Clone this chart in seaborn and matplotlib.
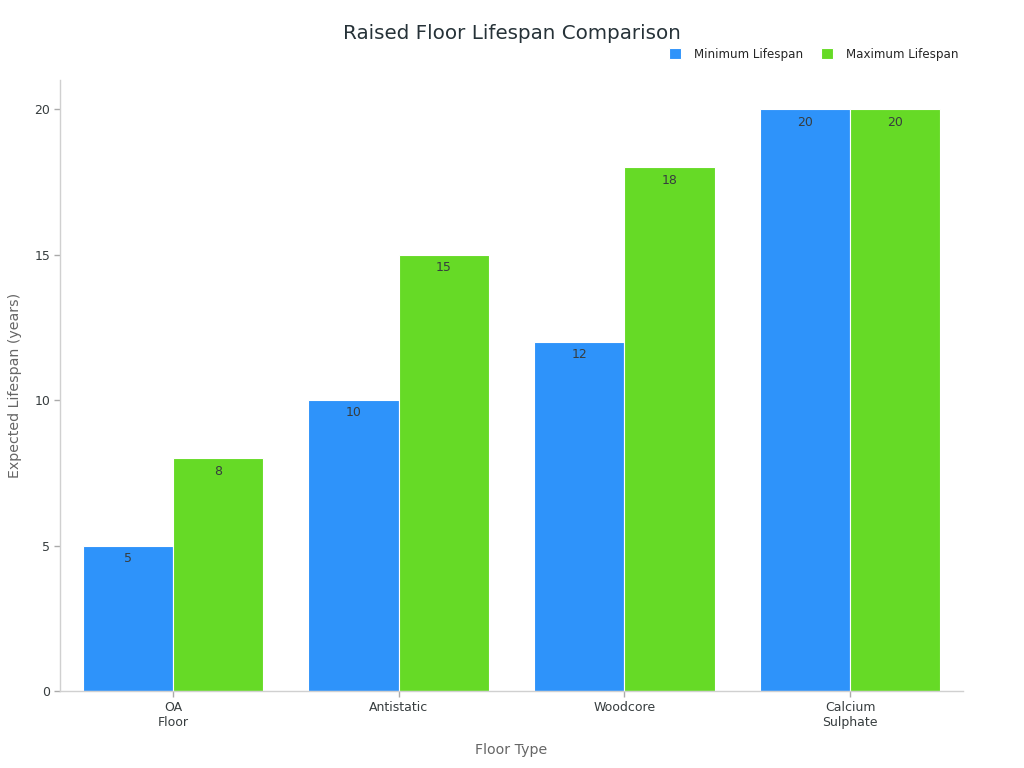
import matplotlib
matplotlib.use("Agg")
import matplotlib.pyplot as plt
import seaborn as sns
import pandas as pd

categories = ["OA\nFloor", "Antistatic", "Woodcore", "Calcium\nSulphate"]
min_life = [5, 10, 12, 20]
max_life = [8, 15, 18, 20]
series_names = ["Minimum Lifespan", "Maximum Lifespan"]
colors = ["#2E93FA", "#66DA26"]

df = pd.DataFrame({
    "Floor Type": categories * 2,
    "value": min_life + max_life,
    "series": [series_names[0]] * 4 + [series_names[1]] * 4,
})

sns.set_style("white")
plt.rcParams["font.family"] = ["DejaVu Sans"]

fig = plt.figure(figsize=(10.24, 7.68), dpi=100)
ax = fig.add_axes([0.0586, 0.1003, 0.8818, 0.7955])

sns.barplot(data=df, x="Floor Type", y="value", hue="series", palette=colors,
            width=0.8, gap=0, edgecolor="white", linewidth=0.8, ax=ax, saturation=1)

for cont in ax.containers:
    ax.bar_label(cont, labels=[f"{v:g}" for v in cont.datavalues], padding=-14,
                 color="#373d3f", fontsize=9)

ax.set_xlim(-0.5, 3.5)
ax.set_ylim(0, 21)
ax.set_yticks([0, 5, 10, 15, 20])
ax.set_ylabel("Expected Lifespan (years)", color="#666666", fontsize=10.2, labelpad=9)
ax.set_xlabel("Floor Type", color="#666666", fontsize=10.2, labelpad=10)
ax.tick_params(axis="both", labelcolor="#373d3f", labelsize=9, length=4, width=1,
               color="#aaaaaa", bottom=True, left=True, pad=3)
for s in ["top", "right"]:
    ax.spines[s].set_visible(False)
for s in ["left", "bottom"]:
    ax.spines[s].set_color("#d0d0d0")
    ax.spines[s].set_linewidth(1)

fig.text(0.5, 0.957, "Raised Floor Lifespan Comparison", ha="center", va="center",
         fontsize=14.3, color="#263238")

ax.legend(loc="upper right", bbox_to_anchor=(0.947, 0.952), bbox_transform=fig.transFigure,
          ncol=2, frameon=False, fontsize=8.6, handlelength=1.0, handleheight=1.0,
          columnspacing=1.5, handletextpad=1.1)

fig.savefig("out.png", dpi=100)
